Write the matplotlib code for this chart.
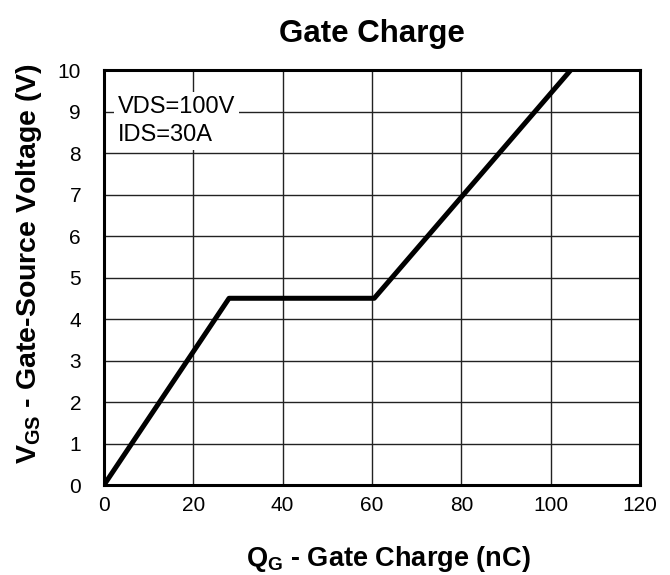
import matplotlib
matplotlib.use("Agg")
import matplotlib.pyplot as plt

plt.rcParams['font.family'] = ['Liberation Sans', 'DejaVu Sans']
plt.rcParams['mathtext.fontset'] = 'custom'
plt.rcParams['mathtext.rm'] = 'Liberation Sans:bold'
plt.rcParams['mathtext.bf'] = 'Liberation Sans:bold'
plt.rcParams['mathtext.it'] = 'Liberation Sans:bold'

qg = [0, 28, 60.5, 104.5]
vgs = [0, 4.5, 4.5, 10]
xticks = [0, 20, 40, 60, 80, 100, 120]
yticks = [0, 1, 2, 3, 4, 5, 6, 7, 8, 9, 10]

fig = plt.figure(figsize=(6.7, 5.75), dpi=100)
ax = fig.add_axes([0.1552, 0.1565, 0.8, 0.7217])
ax.plot(qg, vgs, color='black', lw=3.6, solid_capstyle='butt', zorder=3)
ax.set_xlim(0, 120)
ax.set_ylim(0, 10)
ax.set_xticks(xticks)
ax.set_yticks(yticks)
ax.tick_params(length=0, labelsize=15)
ax.tick_params(axis='x', pad=8)
ax.tick_params(axis='y', pad=16.5)
ax.grid(True, color='#222222', lw=1.0)
ax.set_axisbelow(True)
for s in ax.spines.values():
    s.set_linewidth(2.2)
ax.set_title('Gate Charge', fontsize=22.5, fontweight='bold', pad=20)
ax.set_xlabel(r'$\mathbf{Q_G}$ - Gate Charge (nC)', fontsize=19.5, fontweight='bold')
ax.xaxis.set_label_coords(0.53, -0.142)
ax.set_ylabel(r'$\mathbf{V_{GS}}$ - Gate-Source Voltage (V)', fontsize=20.5, fontweight='bold')
ax.yaxis.set_label_coords(-0.112, 0.535)
ax.text(3.1, 9.38, 'VDS=100V\nIDS=30A', fontsize=17, va='top', ha='left', linespacing=1.38,
        bbox=dict(boxstyle='square,pad=0.15', facecolor='white', edgecolor='none'), zorder=4)
fig.savefig('out.png', dpi=100)
